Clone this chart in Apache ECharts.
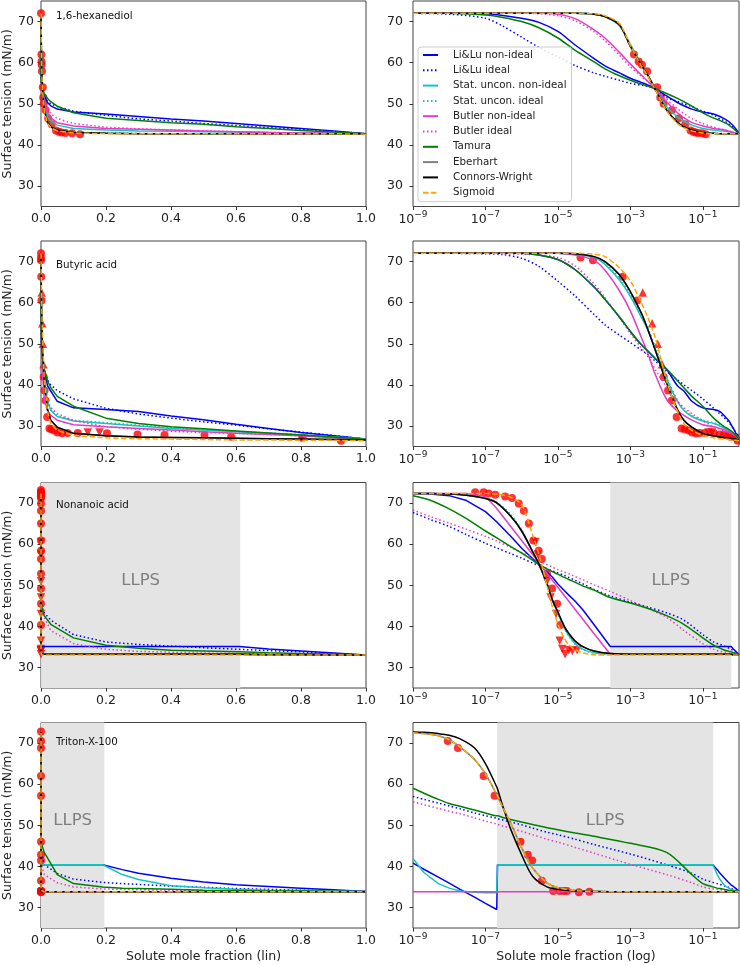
<!DOCTYPE html>
<html><head><meta charset="utf-8">
<script src="https://cdn.jsdelivr.net/npm/echarts@6/dist/echarts.min.js"></script>
<style>html,body{margin:0;padding:0;background:#fff}#c{width:740px;height:965px}</style>
</head><body><div id="c"></div><script>
// ---------- model names ----------
const modelNames = ['Li&Lu non-ideal','Li&Lu ideal','Stat. uncon. non-ideal','Stat. uncon. ideal','Butler non-ideal','Butler ideal','Tamura','Eberhart','Connors-Wright','Sigmoid'];
const compoundNames = ['1,6-hexanediol','Butyric acid','Nonanoic acid','Triton-X-100'];
const yTicks = [30,40,50,60,70];
const logTicks = [1e-9,1e-7,1e-5,1e-3,1e-1];

// ---------- 1,6-hexanediol ----------
const hexX   = [1e-9,1e-8,1e-7,3e-7,1e-6,3e-6,1e-5,3e-5,1e-4,2e-4,5e-4,1e-3,2e-3,3e-3,5e-3,0.01,0.02,0.03,0.05,0.1,0.2,0.3,0.4,0.5,0.6,0.7,0.8,0.9,1.0];
const hexLLN = [72,72,71.9,71.5,70.8,69.8,67.6,64.3,61.0,59.2,57.5,56.2,55.2,54.6,53.7,51.9,50.3,49.5,48.7,48.0,47.5,46.9,46.3,45.8,45.2,44.6,44.0,43.4,42.7];
const hexLLI = [72,71.8,70.8,68.9,66.2,63.7,61.4,59.3,57.5,56.7,55.7,55.0,54.5,54.2,53.6,51.5,50.6,50.0,49.3,48.2,47.2,46.3,45.8,45.2,44.7,44.2,43.8,43.3,42.7];
const hexSUN = [72,72,72,72,72,72,72,72,71.8,71.2,69.0,64.5,59.5,57.0,53.5,49.3,46.8,45.8,44.8,44.0,43.6,43.4,43.3,43.2,43.1,43.0,42.9,42.8,42.7];
const hexSUI = [72,72,72,72,72,72,72,72,71.8,71.2,69.0,63.8,59.3,56.9,53.3,48.6,45.6,44.5,43.6,43.1,42.9,42.8,42.7,42.7,42.7,42.7,42.7,42.7,42.7];
const hexBUN = [72,72,72,72,72,72,71.8,70.7,68.0,66.0,62.5,59.7,57.0,55.5,53.6,50.5,47.8,46.6,45.4,44.6,44.0,43.8,43.6,43.4,43.2,43.0,42.9,42.8,42.7];
const hexBUI = [72,72,72,72,72,71.9,71.4,70.2,67.5,65.3,61.8,59.0,56.7,55.4,53.7,51.1,48.8,47.6,46.4,45.2,44.3,43.9,43.6,43.4,43.2,43.0,42.9,42.8,42.7];
const hexTAM = [72,72,71.6,71.0,70.0,68.5,66.0,63.0,60.2,58.5,56.8,55.7,54.8,54.3,53.6,52.5,51.3,50.5,49.4,47.8,46.5,45.9,45.4,45.0,44.4,44.0,43.5,43.1,42.7];
const hexEBE = [72,72,72,72,72,72,72,72,71.8,71.2,69.2,64.0,59.5,57.0,53.4,48.5,45.5,44.4,43.6,43.0,42.8,42.7,42.7,42.7,42.7,42.7,42.7,42.7,42.7];
const hexCW  = [72,72,72,72,72,72,72,72,71.8,71.2,69.2,64.0,59.5,57.0,53.4,48.5,45.5,44.4,43.6,43.0,42.8,42.7,42.7,42.7,42.7,42.7,42.7,42.7,42.7];
const hexSIG = [72,72,72,72,72,72,72,72,71.9,71.4,69.5,64.2,59.3,56.8,53.3,48.3,45.2,44.2,43.4,42.9,42.7,42.7,42.7,42.7,42.7,42.7,42.7,42.7,42.6];
const hexCirc = [[0,72],[1.26e-3,62],[1.7e-3,60.3],[2.1e-3,59.5],[2.9e-3,57.9],[5.5e-3,54],[6.7e-3,51.5],[8.3e-3,50],[0.014,48.5],[0.022,46.5],[0.033,45],[0.046,43.5],[0.055,43.2],[0.063,43],[0.075,42.9],[0.096,42.8],[0.12,42.6]];

// ---------- Butyric acid ----------
const butX   = [1e-9,1e-8,1e-7,3e-7,1e-6,3e-6,1e-5,3e-5,1e-4,2e-4,5e-4,1e-3,2e-3,3e-3,5e-3,0.01,0.02,0.03,0.05,0.1,0.2,0.3,0.4,0.5,0.6,0.7,0.8,0.9,1.0];
const butLLN = [72,72,72,72,72,71.6,70.5,68.0,63.8,60.8,56.5,53.0,49.8,48.3,46.3,43.7,39.8,38.5,36.0,34.4,34.0,33.5,32.4,31.5,30.4,29.4,28.4,27.6,26.8];
const butLLI = [72,72,71.9,71.7,70.8,68.8,65.2,61.6,57.1,54.6,52.1,50.3,48.5,47.4,45.7,43.3,41.2,40.0,38.6,36.6,34.3,32.9,31.9,31.0,30.2,29.3,28.5,27.7,26.8];
const butSUN = [72,72,72,72,72,72,72,71.8,71.0,69.3,65.5,61.5,56.5,53.5,48.5,41.5,36.0,33.8,32.3,31.2,30.6,30.0,29.4,29.0,28.6,28.2,27.8,27.3,26.8];
const butSUI = [72,72,72,72,72,72,72,71.8,71.1,69.6,66.0,62.0,57.0,54.0,49.0,42.0,36.3,34.0,32.5,31.4,30.8,30.2,29.6,29.1,28.7,28.3,27.9,27.4,26.8];
const butBUN = [72,72,72,72,72,72,72,71.6,70.3,67.9,62.9,58.0,51.6,47.8,42.3,36.5,33.6,32.6,31.4,30.3,29.8,29.4,29.0,28.6,28.2,27.9,27.6,27.1,26.6];
const butBUI = [72,72,72,71.9,71.8,71.6,71.0,68.9,64.5,61.2,56.3,52.5,49.0,47.0,43.6,39.4,36.0,34.5,33.0,31.3,29.8,29.2,28.7,28.4,28.2,27.9,27.6,27.2,26.8];
const butTAM = [72,72,72,72,72,71.6,70.5,68.0,63.8,60.8,56.5,53.0,49.8,48.3,46.3,43.9,41.0,39.3,37.2,34.8,31.9,30.6,29.8,29.3,28.8,28.3,27.8,27.3,26.7];
const butEBE = [72,72,72,72,72,72,72,71.9,71.2,70.0,66.8,62.7,57.5,53.6,48.2,40.5,34.0,31.4,29.7,28.2,27.6,27.3,27.2,27.1,27.0,26.9,26.8,26.7,26.6];
const butCW  = [72,72,72,72,72,72,72,71.9,71.2,70.0,66.8,62.7,57.5,53.6,48.2,40.5,34.0,31.4,29.7,28.2,27.6,27.3,27.2,27.1,27.0,26.9,26.8,26.7,26.6];
const butSIG = [72,72,72,72,72,72,72,72,71.8,71.2,68.5,65.3,60.0,56.5,51.2,41.0,33.6,30.6,28.9,27.7,27.1,26.9,26.8,26.7,26.6,26.6,26.5,26.5,26.4];
const butCirc = [[0,72],[4.2e-5,71],[9.3e-5,70.3],[6.2e-4,66.3],[1.55e-3,60.5],[8.3e-3,41.9],[0.011,38.6],[0.014,36.2],[0.019,32.2],[0.026,29.4],[0.032,29.2],[0.041,28.9],[0.051,28.4],[0.065,28.2],[0.082,28.3],[0.113,28.3],[0.203,28.2],[0.297,27.9],[0.38,27.8],[0.503,27.8],[0.585,27.4],[0.805,27.2],[0.923,26.4]];
const butUp   = [[2.2e-3,62.5],[4e-3,55],[5.7e-3,50],[7.5e-3,45]];
const butDown = [[0.144,28.4],[0.18,28.4],[0.8,27.0]];

// ---------- Nonanoic acid ----------
const nonX   = [1e-9,3e-9,1e-8,3e-8,1e-7,2e-7,5e-7,1e-6,2e-6,3e-6,5e-6,7e-6,1e-5,1.5e-5,2e-5,3e-5,5e-5,1e-4,2.8e-4,1e-3,3e-3,0.01,0.03,0.1,0.2,0.3,0.4,0.5,0.61,0.7,0.8,0.9,1.0];
const nonLLN = [72.3,72.2,71.8,70.6,67.9,65.5,61.9,59.0,56.5,55.0,53.2,52.0,50.3,48.7,47.6,46.1,43.9,40.4,35.1,35.1,35.1,35.1,35.1,35.1,35.1,35.1,35.1,35.1,35.1,34.5,34.0,33.5,33.0];
const nonLLI = [67.7,66.0,64.3,62.3,60.2,59.1,57.7,56.6,55.4,54.8,54.0,53.5,53.0,52.4,51.9,51.2,50.3,49.0,47.4,45.9,44.7,43.3,41.5,38.0,36.2,35.6,35.2,34.8,34.4,34.1,33.8,33.4,33.0];
const nonSUN = [72.3,72.3,72.2,71.9,71.1,70.1,66.8,63.2,58.2,55.1,50.4,46.5,43.3,39.6,37.8,35.8,34.4,33.6,33.3,33.2,33.2,33.2,33.2,33.2,33.2,33.2,33.2,33.2,33.2,33.1,33.1,33.0,33.0];
const nonSUI = [72.3,72.3,72.2,71.9,71.2,70.3,67.2,63.5,58.3,55.0,50.2,46.2,43.0,39.4,37.6,35.6,34.3,33.5,33.2,33.2,33.2,33.2,33.2,33.2,33.2,33.2,33.2,33.2,33.2,33.1,33.1,33.0,33.0];
const nonBUN = [72.3,72.3,72.3,72.3,71.6,68.8,64.3,60.9,57.5,55.4,52.9,51.2,49.5,47.5,46.1,44.1,41.6,38.2,33.2,33.2,33.2,33.2,33.2,33.2,33.2,33.2,33.2,33.2,33.2,33.1,33.1,33.0,33.0];
const nonBUI = [68.3,66.7,65.1,63.6,61.9,60.8,59.2,58.0,56.7,55.9,55.0,54.4,53.8,53.2,52.8,52.1,51.3,50.1,48.5,46.3,44.4,42.2,39.0,35.8,34.4,33.9,33.7,33.5,33.4,33.3,33.2,33.1,33.0];
const nonTAM = [71.8,70.7,68.6,66.2,63.2,61.6,59.4,57.8,56.1,55.1,54.0,53.3,52.7,51.9,51.4,50.7,49.8,48.8,47.0,45.7,44.4,42.6,40.5,37.2,35.4,34.7,34.2,34.0,33.8,33.6,33.4,33.2,33.0];
const nonEBE = [72.3,72.3,72.2,71.9,71.1,70.1,66.8,63.2,58.2,55.1,50.4,46.5,43.5,40.0,38.3,36.4,35.0,34.0,33.4,33.2,33.2,33.2,33.2,33.2,33.2,33.2,33.2,33.2,33.2,33.1,33.1,33.0,33.0];
const nonCW  = [72.3,72.3,72.2,71.9,71.1,70.1,66.8,63.2,58.2,55.1,50.4,46.5,43.5,40.0,38.3,36.4,35.0,34.0,33.4,33.2,33.2,33.2,33.2,33.2,33.2,33.2,33.2,33.2,33.2,33.1,33.1,33.0,33.0];
const nonSIG = [72.3,72.3,72.3,72.3,72.3,72.2,71.4,69.6,62.3,57.5,50.0,44.8,40.6,37.1,35.5,34.3,33.5,33.1,33.0,33.0,33.0,33.0,33.0,33.0,33.0,33.0,33.0,33.0,33.0,33.0,33.0,33.0,33.0];
const nonCirc = [[0,73.2],[5.2e-8,72.6],[8.9e-8,72.6],[1.23e-7,72.3],[1.86e-7,72],[3.5e-7,71.6],[5.4e-7,71.2],[8.3e-7,69.9],[1.15e-6,68.1],[1.58e-6,65],[2.1e-6,60.9],[2.95e-6,58.4],[3.6e-6,56.4],[5e-6,52.8],[6.9e-6,49.2],[9.5e-6,45.5],[1.17e-5,40.3]];
const nonDown = [[2.4e-6,60.5],[2.8e-6,57.5],[5e-6,51],[6.3e-6,47],[8.9e-6,43],[1.12e-5,36.5],[1.32e-5,34.5],[1.58e-5,33.2],[2e-5,34.2],[2.5e-5,34],[3.4e-5,34.2]];
const nonLLPS = [2.8e-4, 0.613];

// ---------- Triton-X-100 ----------
const triX   = [1e-9,2e-9,5e-9,1e-8,2e-8,5e-8,1e-7,2.05e-7,2.15e-7,3e-7,5e-7,1e-6,2e-6,5e-6,1e-5,3e-5,1e-4,1e-3,1e-2,0.05,0.1,0.19,0.25,0.3,0.4,0.5,0.6,0.7,0.8,0.9,1.0];
const triLLN = [40.8,39.3,37.4,35.9,34.4,32.5,31.0,29.5,40.4,40.4,40.4,40.4,40.4,40.4,40.4,40.4,40.4,40.4,40.4,40.4,40.4,40.4,39.2,38.3,37.1,36.2,35.5,35.1,34.7,34.3,33.9];
const triLLI = [57.0,56.3,55.4,54.7,54.0,53.0,52.3,51.7,51.6,51.3,50.8,50.1,49.3,48.3,47.7,46.6,45.3,43.0,40.4,38.3,36.9,36.1,35.8,35.6,35.2,34.9,34.6,34.4,34.2,34.0,33.9];
const triSUN = [41.9,38.5,35.8,34.7,34.0,33.7,33.6,33.6,40.4,40.4,40.4,40.4,40.4,40.4,40.4,40.4,40.4,40.4,40.4,40.4,40.4,40.4,38.0,36.8,35.3,34.8,34.4,34.2,34.1,34.0,33.9];
const triSUI = [72.5,72.3,71.8,70.8,69.0,66.0,62.5,57.5,57.2,54.4,50.5,44.5,39.6,36.0,34.8,34.1,33.9,33.8,33.8,33.8,33.8,33.8,33.8,33.8,33.8,33.8,33.8,33.8,33.8,33.8,33.8];
const triBUN = [33.8,33.8,33.8,33.8,33.8,33.8,33.8,33.8,33.8,33.8,33.8,33.8,33.8,33.8,33.8,33.8,33.8,33.8,33.8,33.8,33.8,33.8,33.8,33.8,33.8,33.8,33.8,33.8,33.8,33.8,33.8];
const triBUI = [55.7,55.0,54.1,53.4,52.8,51.8,51.0,50.3,50.2,49.8,49.3,48.5,47.7,46.6,45.9,44.6,43.2,40.5,38.0,36.0,35.0,34.5,34.4,34.3,34.2,34.1,34.0,34.0,33.9,33.9,33.9];
const triTAM = [59.0,57.8,56.3,55.3,54.6,53.7,53.0,52.3,52.3,51.9,51.4,50.8,50.2,49.4,48.9,48.1,47.3,45.6,43.4,38.0,35.8,35.0,34.7,34.6,34.4,34.2,34.1,34.0,34.0,33.9,33.9];
const triEBE = [72.5,72.3,71.8,70.8,69.0,66.0,62.5,57.5,57.2,54.4,50.5,44.5,39.6,36.0,34.8,34.1,33.9,33.8,33.8,33.8,33.8,33.8,33.8,33.8,33.8,33.8,33.8,33.8,33.8,33.8,33.8];
const triCW  = [72.7,72.6,72.3,71.9,71.0,68.8,65.0,59.3,58.9,54.7,49.0,42.8,37.6,35.0,34.4,34.0,33.9,33.8,33.8,33.8,33.8,33.8,33.8,33.8,33.8,33.8,33.8,33.8,33.8,33.8,33.8];
const triSIG = [72.5,72.3,71.8,70.8,69.0,66.0,62.5,57.5,57.2,54.4,50.5,44.5,39.6,36.0,34.8,34.1,33.9,33.8,33.8,33.8,33.8,33.8,33.8,33.8,33.8,33.8,33.8,33.8,33.8,33.8,33.8];
const triCirc = [[0,72.8],[9.1e-9,70.5],[1.74e-8,68.8],[8.9e-8,62],[1.78e-7,57.2],[9.3e-7,46],[1.48e-6,42.8],[1.95e-6,41.4],[3.6e-6,36.5],[7.4e-6,34],[1.12e-5,34],[1.45e-5,34],[1.78e-5,34],[3.8e-5,33.7],[7.4e-5,33.8]];
const triLLPS = [2.1e-7, 0.195];

// ---------- assembly ----------
const FONT = 'DejaVu Sans';
const DOT = [1.5, 2.5], DASH = [5.5, 2.4];
const modelStyles = [
  {color:'#0000ff', type:'solid'}, {color:'#0000ff', type:DOT},
  {color:'#17c4bf', type:'solid'}, {color:'#17c4bf', type:DOT},
  {color:'#e43cc6', type:'solid'}, {color:'#e43cc6', type:DOT},
  {color:'#008000', type:'solid'}, {color:'#808080', type:'solid'},
  {color:'#000000', type:'solid'}, {color:'#ffa500', type:DASH}
];
// linFrom: on the linear panel, models whose branch below the LLPS jump is not resolved start after it
const rows = [
  {x: hexX, ys: [hexLLN,hexLLI,hexSUN,hexSUI,hexBUN,hexBUI,hexTAM,hexEBE,hexCW,hexSIG], circ: hexCirc, up: [], down: [], llps: null, sharp: [], linFrom: {}},
  {x: butX, ys: [butLLN,butLLI,butSUN,butSUI,butBUN,butBUI,butTAM,butEBE,butCW,butSIG], circ: butCirc, up: butUp, down: butDown, llps: null, sharp: [], linFrom: {}},
  {x: nonX, ys: [nonLLN,nonLLI,nonSUN,nonSUI,nonBUN,nonBUI,nonTAM,nonEBE,nonCW,nonSIG], circ: nonCirc, up: [], down: nonDown, llps: nonLLPS, sharp: [0,4], linFrom: {}},
  {x: triX, ys: [triLLN,triLLI,triSUN,triSUI,triBUN,triBUI,triTAM,triEBE,triCW,triSIG], circ: triCirc, up: [], down: [], llps: triLLPS, sharp: [0,2], linFrom: {0: 2.1e-7, 2: 2.1e-7}}
];

const rowTop = [1, 241, 482.5, 722.5];
const H = 205.5;
const grids = [], xAxes = [], yAxes = [], series = [], graphics = [];
const labelCommon = {fontFamily: FONT, fontSize: 12.5, color: '#222'};
rows.forEach((row, r) => {
  for (let c = 0; c < 2; c++) {
    const gi = r * 2 + c;
    grids.push({left: c ? 413 : 40, width: 326, top: rowTop[r], height: H, show: true, borderColor: '#444', borderWidth: 1, backgroundColor: 'transparent'});
    const tick = {show: true, length: 3.5, lineStyle: {color: '#333', width: 1}};
    if (c === 0) {
      xAxes.push({type: 'value', gridIndex: gi, min: 0, max: 1, interval: 0.2,
        axisLine: {show: false}, splitLine: {show: false}, axisTick: tick,
        axisLabel: Object.assign({margin: 6, formatter: v => v.toFixed(1)}, labelCommon),
        name: r === 3 ? 'Solute mole fraction (lin)' : '', nameLocation: 'middle', nameGap: 22,
        nameTextStyle: labelCommon});
    } else {
      xAxes.push({type: 'log', logBase: 10, gridIndex: gi, min: 1e-9, max: 1,
        axisLine: {show: false}, splitLine: {show: false}, minorTick: {show: false},
        axisTick: Object.assign({customValues: logTicks}, tick),
        axisLabel: Object.assign({margin: 4, customValues: logTicks,
          formatter: v => '{b|10}{s|\u2212' + Math.abs(Math.round(Math.log10(v))) + '}',
          rich: {b: {fontFamily: FONT, fontSize: 12.5, color: '#222'}, s: {fontFamily: FONT, fontSize: 9, color: '#222', padding: [0, 0, 9, 0]}}}, labelCommon),
        name: r === 3 ? 'Solute mole fraction (log)' : '', nameLocation: 'middle', nameGap: 22,
        nameTextStyle: labelCommon});
    }
    yAxes.push({type: 'value', gridIndex: gi, min: 25, max: 75,
      axisLine: {show: false}, splitLine: {show: false},
      axisTick: Object.assign({customValues: yTicks}, tick),
      axisLabel: Object.assign({margin: c ? 10 : 7, customValues: yTicks}, labelCommon),
      name: c === 0 ? 'Surface tension (mN/m)' : '', nameLocation: 'middle', nameGap: 27, nameRotate: 90,
      nameTextStyle: labelCommon});

    const keep = p => c === 0 || p[0] > 0;
    const sc = (data, rot) => ({type: 'scatter', xAxisIndex: gi, yAxisIndex: gi, data: data.filter(keep),
      symbol: rot === null ? 'circle' : 'triangle', symbolRotate: rot || 0, symbolSize: rot === null ? 8 : 8.5,
      itemStyle: {color: '#ff0000'}, silent: true, z: 2});
    series.push(sc(row.circ, null));
    if (row.up.length) series.push(sc(row.up, 0));
    if (row.down.length) series.push(sc(row.down, 180));

    row.ys.forEach((ys, m) => {
      let pts = row.x.map((xv, i) => [xv, ys[i]]);
      if (c === 0 && row.linFrom[m] !== undefined) pts = pts.filter(p => p[0] > row.linFrom[m]);
      const s = {type: 'line', name: modelNames[m], xAxisIndex: gi, yAxisIndex: gi,
        data: pts, symbol: 'none', showSymbol: false,
        smooth: (c === 1 && row.sharp.indexOf(m) < 0) ? 0.3 : false,
        lineStyle: {color: modelStyles[m].color, type: modelStyles[m].type, width: 1.5, cap: 'butt'},
        itemStyle: {color: modelStyles[m].color}, silent: true, z: 3, animation: false};
      if (m === 0 && row.llps) {
        s.markArea = {silent: true, itemStyle: {color: '#e4e4e4'},
          label: {show: true, position: 'inside', formatter: 'LLPS', fontFamily: FONT, fontSize: 16.5, color: '#7f7f7f', offset: [0, -5]},
          data: [[{xAxis: row.llps[0]}, {xAxis: row.llps[1]}]]};
      }
      series.push(s);
    });
  }
});

const annTop = [11.5, 260.5, 500.5, 737];
compoundNames.forEach((t, r) => graphics.push({type: 'text', left: 56, top: annTop[r], silent: true, z: 100,
  style: {text: t, fontFamily: FONT, fontSize: 10.3, fill: '#111'}}));

const chart = echarts.init(document.getElementById('c'), null, {renderer: 'canvas'});
chart.setOption({
  animation: false,
  backgroundColor: '#fff',
  grid: grids, xAxis: xAxes, yAxis: yAxes, series: series, graphic: graphics,
  legend: {data: modelNames, orient: 'vertical', left: 418, top: 47, itemWidth: 15, itemHeight: 10, itemGap: 3.3,
    padding: [2, 5, 3, 4], backgroundColor: 'rgba(255,255,255,0.85)', borderColor: '#cccccc', borderWidth: 1, borderRadius: 3,
    selectedMode: false, itemStyle: {opacity: 0}, z: 50,
    textStyle: {fontFamily: FONT, fontSize: 10.3, color: '#222', lineHeight: 12, padding: [0, 0, 0, 10]}}
});
</script></body></html>
